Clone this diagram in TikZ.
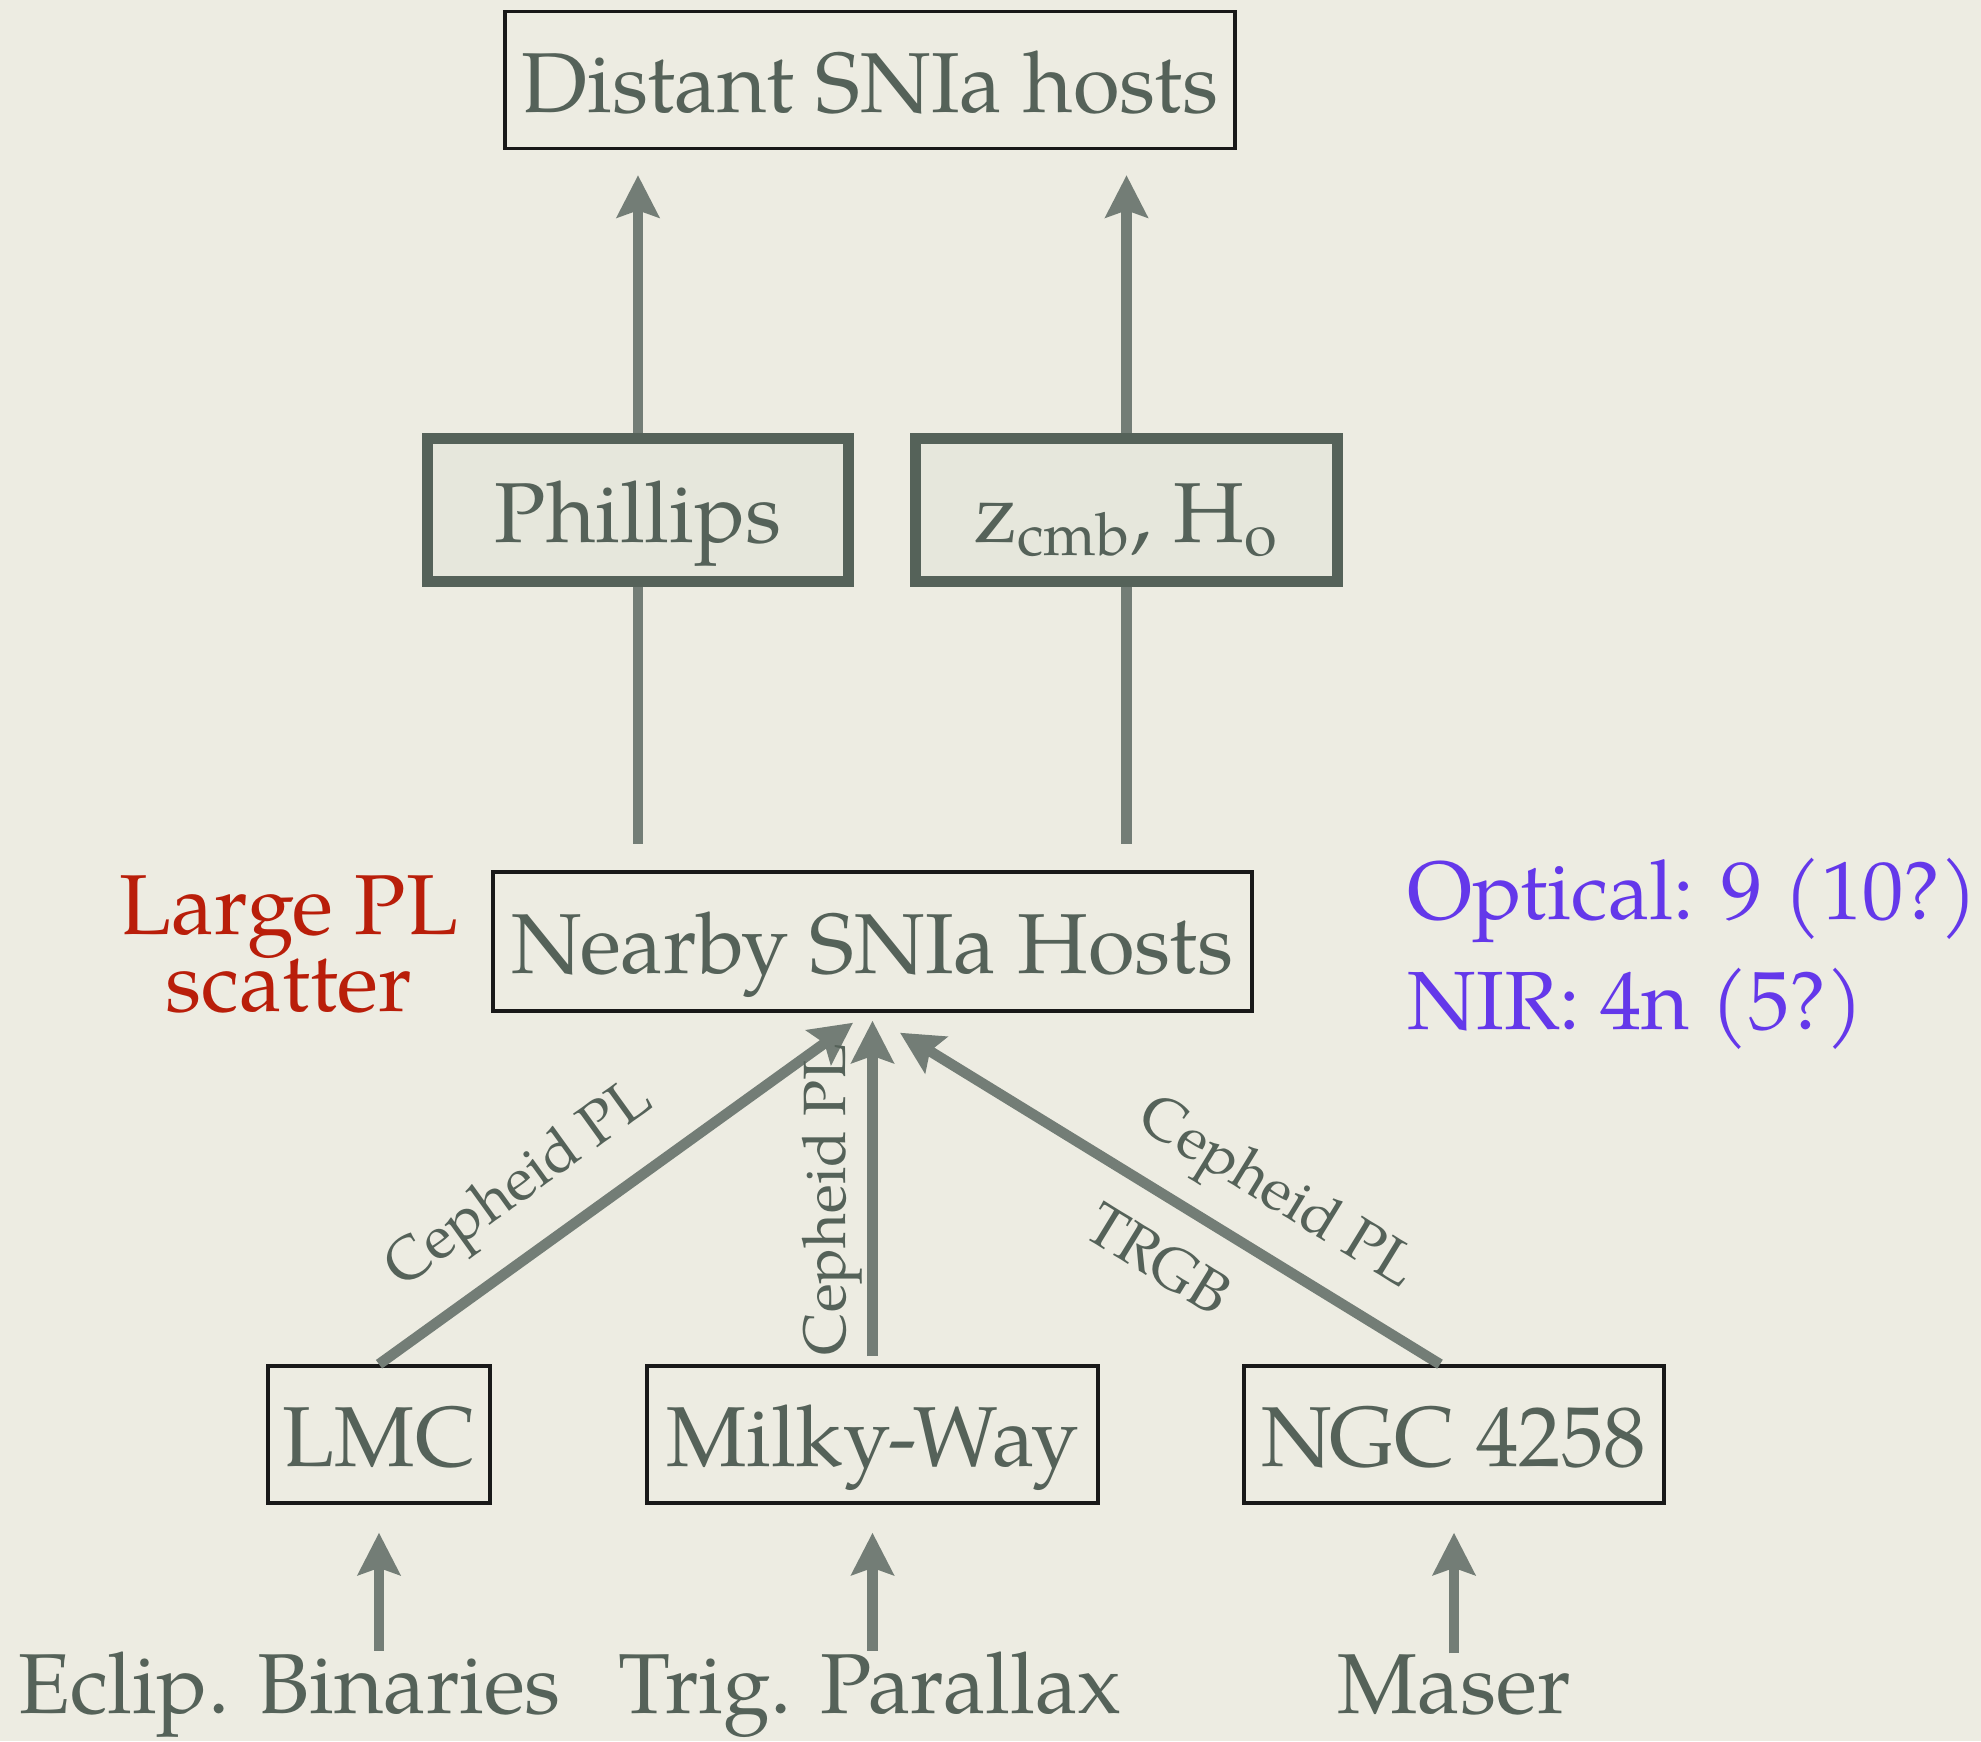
\documentclass[tikz,border=0pt]{standalone}
\usepackage{fontspec}
\setmainfont{texgyrepagella}[Extension=.otf, UprightFont=*-regular, BoldFont=*-bold, ItalicFont=*-italic, BoldItalicFont=*-bolditalic]
\usepackage{tikz}
\usetikzlibrary{calc,positioning,arrows.meta}
\definecolor{fondoBg}{RGB}{237,236,226}
\definecolor{grisTexto}{RGB}{85,98,89}
\definecolor{grisFlecha}{RGB}{115,125,118}
\definecolor{grisCajaBg}{RGB}{230,231,220}
\definecolor{rojoNota}{RGB}{185,30,10}
\definecolor{moradoNota}{RGB}{100,56,234}

\begin{document}
\begin{tikzpicture}[
    caja/.style={draw=black!90, line width=1pt, text=grisTexto, font=\fontsize{24.2}{29}\selectfont,
      minimum height=1.37cm, inner sep=0pt, text height=18.4pt, text depth=0pt},
    cajaGruesa/.style={draw=grisTexto, fill=grisCajaBg, line width=3.1pt, text=grisTexto,
      font=\fontsize{24.2}{29}\selectfont, minimum height=1.43cm, inner sep=0pt, text height=18.4pt, text depth=0pt},
    texto/.style={text=grisTexto, font=\fontsize{24.2}{29}\selectfont, inner sep=0pt},
    etiqueta/.style={text=grisTexto, font=\fontsize{17}{20}\selectfont, inner sep=0pt, sloped},
    flecha/.style={grisFlecha, line width=3pt, -{Stealth[length=12pt, width=12pt, inset=2pt]}},
    linea/.style={grisFlecha, line width=3pt}
  ]
  % Paper background
  \fill[fondoBg] (0,0) rectangle (19.81,17.41);
  \useasboundingbox (0,0) rectangle (19.81,17.41);

  % Top box
  \node[caja, minimum width=7.30cm] (distant) at (8.70,16.61) {Distant SNIa hosts};
  % Two calibration boxes
  \node[cajaGruesa, minimum width=4.21cm] (phillips) at (6.38,12.31) {Phillips};
  \node[cajaGruesa, minimum width=4.22cm] (zcmb) at (11.265,12.31) {z\textsubscript{cmb}, H\textsubscript{o}};
  % Nearby hosts and side notes
  \node[caja, minimum width=7.59cm, minimum height=1.39cm] (nearby) at (8.725,7.995) {Nearby SNIa Hosts};
  \node[texto, text=rojoNota, align=center, font=\fontsize{24.2}{22}\selectfont] (scatter) at (2.89,7.965)
    {Large PL\\scatter};
  \node[texto, text=moradoNota, align=left, font=\fontsize{23.5}{31.3}\selectfont, anchor=west] (counts) at (14.07,7.87)
    {Optical: 9 (10?)\\NIR: 4n (5?)};
  % Anchor galaxies
  \node[caja, minimum width=2.22cm] (lmc) at (3.79,3.065) {LMC};
  \node[caja, minimum width=4.51cm] (milky) at (8.725,3.065) {Milky-Way};
  \node[caja, minimum width=4.20cm] (ngc) at (14.54,3.065) {NGC 4258};
  % Distance methods
  \node[texto, anchor=base] (binaries) at (2.895,0.28) {Eclip. Binaries};
  \node[texto, anchor=base] (parallax) at (8.70,0.28) {Trig. Parallax};
  \node[texto, anchor=base] (maser) at (14.54,0.28) {Maser};

  % Arrows up to distant hosts
  \foreach \b in {phillips, zcmb}
    \draw[flecha, shorten >=0.25cm] (\b.north) -- (\b.north |- distant.south);
  % Lines from nearby hosts
  \foreach \b in {phillips, zcmb}
    \draw[linea, shorten >=0.26cm] (\b.south) -- (\b.south |- nearby.north);
  % Steps into nearby hosts
  \draw[flecha] (lmc.north) -- ([xshift=-0.195cm, yshift=-0.10cm]nearby.south)
    node[etiqueta, above=0.26cm, pos=0.375] {Cepheid PL};
  \draw[flecha, shorten <=0.08cm] (milky.north) -- ([yshift=-0.08cm]nearby.south)
    node[etiqueta, above=0.05cm, pos=0.48] {Cepheid PL};
  \draw[flecha] ([xshift=-0.14cm]ngc.north) -- ([xshift=0.275cm, yshift=-0.20cm]nearby.south)
    node[etiqueta, above=0.22cm, pos=0.36] {Cepheid PL}
    node[etiqueta, below=0.30cm, pos=0.465] {TRGB};
  % Arrows up from methods
  \foreach \m/\b in {binaries/lmc, parallax/milky, maser/ngc}
    \draw[flecha, shorten >=0.28cm] (\b.south |- \m.north) -- (\b.south);
\end{tikzpicture}
\end{document}
